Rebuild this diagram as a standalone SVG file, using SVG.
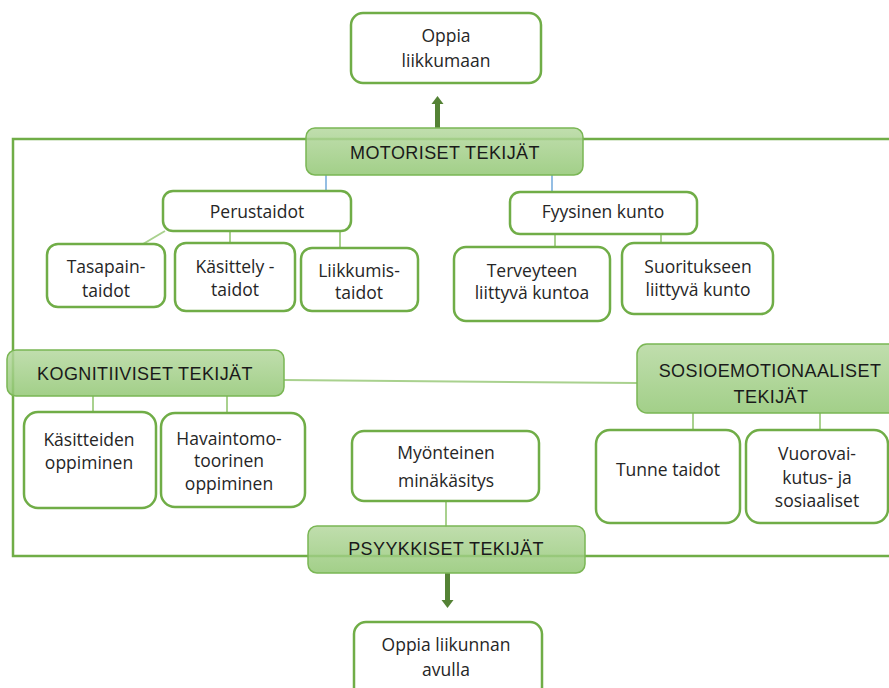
<svg xmlns="http://www.w3.org/2000/svg" width="889" height="688" viewBox="0 0 889 688">
<defs>
<linearGradient id="hg" x1="0" y1="0" x2="0" y2="1">
<stop offset="0" stop-color="#b5d89f"/>
<stop offset="1" stop-color="#92c774"/>
</linearGradient>
</defs>
<style>
.box{fill:#fff;stroke:#70ad47;stroke-width:2.5}
.hdr{fill:url(#hg);fill-opacity:0.85;stroke:#7ab654;stroke-width:1.5}
.t{font-family:"Open Sans","Noto Sans",sans-serif;font-size:17.5px;fill:#262626;text-anchor:middle}
.h{font-family:"Liberation Sans",Arial,sans-serif;font-size:18px;fill:#1a1a1a;text-anchor:middle;letter-spacing:0.4px}
.ln{stroke:#a9d18e;stroke-width:2;fill:none}
.bl{stroke:#5b9bd5;stroke-width:1.3;fill:none}
.frame{fill:none;stroke:#70ad47;stroke-width:2.5}
.arr{fill:#548235}
</style>
<rect class="frame" x="13" y="139" width="890" height="417"/>
<g id="connectors">
<line class="bl" x1="326" y1="175" x2="326" y2="191"/>
<line class="bl" x1="552" y1="175" x2="552" y2="192"/>
<line class="ln" x1="165" y1="231" x2="143" y2="244"/>
<line class="ln" x1="230" y1="231" x2="230" y2="243"/>
<line class="ln" x1="340" y1="231" x2="340" y2="248"/>
<line class="ln" x1="555" y1="234" x2="555" y2="247"/>
<line class="ln" x1="661" y1="234" x2="661" y2="245"/>
<line class="ln" x1="284" y1="380" x2="637" y2="383"/>
<line class="ln" x1="93" y1="396" x2="93" y2="412"/>
<line class="ln" x1="227" y1="396" x2="227" y2="413"/>
<line class="ln" x1="693" y1="413" x2="693" y2="430"/>
<line class="ln" x1="820" y1="413" x2="820" y2="430"/>
<line class="ln" x1="446" y1="501" x2="446" y2="527"/>
<polygon class="arr" points="435,128 440,128 440,104 443.5,104 437.5,96 431.5,104 435,104"/>
<polygon class="arr" points="445,573 450,573 450,600 453.5,600 447.5,608 441.5,600 445,600"/>
</g>
<g id="oppia-liikkumaan">
<rect class="box" x="351" y="13" width="190" height="70" rx="12"/>
<text class="t" x="446" y="42">Oppia</text>
<text class="t" x="446" y="67">liikkumaan</text>
</g>
<g id="motoriset">
<rect class="hdr" x="306" y="128" width="277" height="47" rx="9"/>
<text class="h" x="445" y="159">MOTORISET TEKIJÄT</text>
</g>
<g id="perustaidot">
<rect class="box" x="163" y="191" width="188" height="40" rx="10"/>
<text class="t" x="257" y="218">Perustaidot</text>
</g>
<g id="tasapaintaidot">
<rect class="box" x="47" y="244" width="118" height="63" rx="11"/>
<text class="t" x="106" y="273">Tasapain-</text>
<text class="t" x="106" y="297">taidot</text>
</g>
<g id="kasittelytaidot">
<rect class="box" x="175" y="243" width="120" height="68" rx="11"/>
<text class="t" x="235" y="273">Käsittely -</text>
<text class="t" x="235" y="296">taidot</text>
</g>
<g id="liikkumistaidot">
<rect class="box" x="301" y="248" width="117" height="63" rx="11"/>
<text class="t" x="359" y="277">Liikkumis-</text>
<text class="t" x="359" y="299">taidot</text>
</g>
<g id="fyysinen-kunto">
<rect class="box" x="510" y="192" width="187" height="42" rx="10"/>
<text class="t" x="603" y="218">Fyysinen kunto</text>
</g>
<g id="terveyteen">
<rect class="box" x="454" y="247" width="156" height="74" rx="12"/>
<text class="t" x="532" y="277">Terveyteen</text>
<text class="t" x="532" y="299">liittyvä kuntoa</text>
</g>
<g id="suoritukseen">
<rect class="box" x="622" y="243" width="151" height="71" rx="12"/>
<text class="t" x="698" y="273">Suoritukseen</text>
<text class="t" x="698" y="296">liittyvä kunto</text>
</g>
<g id="kognitiiviset">
<rect class="hdr" x="7" y="350" width="277" height="46" rx="9"/>
<text class="h" x="145" y="380">KOGNITIIVISET TEKIJÄT</text>
</g>
<g id="sosioemotionaaliset">
<rect class="hdr" x="637" y="344" width="266" height="69" rx="10"/>
<text class="h" x="770" y="377">SOSIOEMOTIONAALISET</text>
<text class="h" x="771" y="403">TEKIJÄT</text>
</g>
<g id="kasitteiden">
<rect class="box" x="24" y="412" width="132" height="96" rx="14"/>
<text class="t" x="89" y="446">Käsitteiden</text>
<text class="t" x="89" y="469">oppiminen</text>
</g>
<g id="havaintomotoorinen">
<rect class="box" x="161" y="413" width="144" height="94" rx="14"/>
<text class="t" x="229" y="445">Havaintomo-</text>
<text class="t" x="229" y="467">toorinen</text>
<text class="t" x="229" y="490">oppiminen</text>
</g>
<g id="myonteinen">
<rect class="box" x="352" y="431" width="187" height="70" rx="12"/>
<text class="t" x="446" y="459">Myönteinen</text>
<text class="t" x="446" y="487">minäkäsitys</text>
</g>
<g id="tunne-taidot">
<rect class="box" x="596" y="430" width="144" height="93" rx="14"/>
<text class="t" x="668" y="476">Tunne taidot</text>
</g>
<g id="vuorovaikutus">
<rect class="box" x="746" y="430" width="142" height="93" rx="14"/>
<text class="t" x="817" y="460">Vuorovai-</text>
<text class="t" x="817" y="484">kutus- ja</text>
<text class="t" x="817" y="507">sosiaaliset</text>
</g>
<g id="psyykkiset">
<rect class="hdr" x="308" y="526" width="277" height="47" rx="9"/>
<text class="h" x="446" y="555">PSYYKKISET TEKIJÄT</text>
</g>
<g id="oppia-liikunnan">
<rect class="box" x="354" y="622" width="188" height="80" rx="12"/>
<text class="t" x="446" y="651">Oppia liikunnan</text>
<text class="t" x="446" y="676">avulla</text>
</g>
</svg>
